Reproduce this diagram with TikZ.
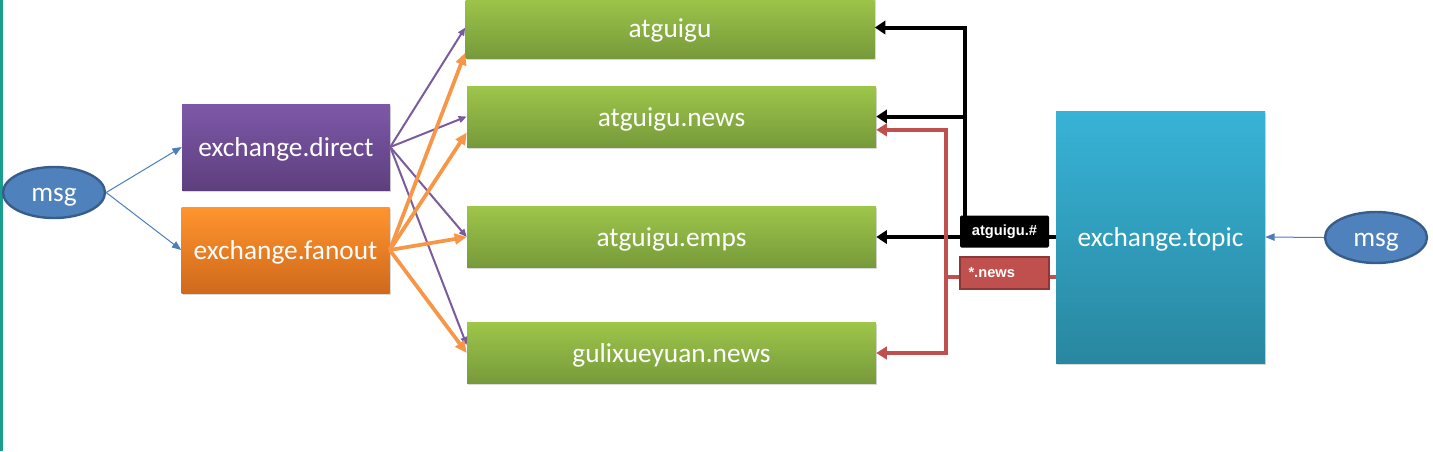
\documentclass[tikz,border=0pt]{standalone}
\usepackage{fontspec}
\setmainfont{Carlito}
\newfontfamily\tagfont{Liberation Sans}
\usetikzlibrary{arrows.meta,shadows,shapes.geometric}
\definecolor{purpleT}{HTML}{7D58A8}
\definecolor{purpleB}{HTML}{5E3F7E}
\definecolor{orangeT}{HTML}{FF952E}
\definecolor{orangeB}{HTML}{D0691C}
\definecolor{greenT}{HTML}{9DC64A}
\definecolor{greenB}{HTML}{769A3B}
\definecolor{blueT}{HTML}{37B3D7}
\definecolor{blueB}{HTML}{2987A0}
\definecolor{msgfill}{HTML}{4F81BD}
\definecolor{msgedge}{HTML}{385D8A}
\definecolor{redfill}{HTML}{C0504D}
\definecolor{rededge}{HTML}{8C3836}
\definecolor{purpleline}{HTML}{7A5B9E}
\definecolor{orangeline}{HTML}{F79646}
\definecolor{blueline}{HTML}{4A7EBB}
\definecolor{tealbar}{HTML}{1A9E8F}
\begin{document}
\begin{tikzpicture}[x=0.75pt, y=-0.75pt,
    box/.style={inner sep=0pt, text=white, font=\fontsize{20.5}{24}\selectfont,
      text height=17.5pt, text depth=3pt,
      drop shadow={shadow xshift=1pt, shadow yshift=-1.2pt, opacity=.3}},
    ex/.style={box, minimum width=156pt, minimum height=64.5pt},
    queue/.style={box, minimum width=306.75pt, minimum height=45.75pt,
      top color=greenT, bottom color=greenB},
    msg/.style={ellipse, draw=msgedge, line width=1.8pt, fill=msgfill, text=white,
      minimum width=76.5pt, minimum height=38.25pt, inner sep=0pt,
      text height=16pt, text depth=3pt, font=\fontsize{20.5}{24}\selectfont},
    tag/.style={minimum width=66.75pt, minimum height=24pt, inner sep=0pt,
      text=white, font=\tagfont\bfseries\fontsize{11}{13}\selectfont},
    pl/.style={draw=purpleline, line width=1.5pt, -{Triangle[length=6pt, width=5pt]}},
    ol/.style={draw=orangeline, line width=2.8pt, -{Triangle[length=9pt, width=8pt]}},
    bl/.style={draw=blueline, line width=0.75pt, -{Triangle[length=7pt, width=5.5pt]}},
    blk/.style={draw=black, line width=3pt, -{Triangle[length=8pt, width=10pt]}},
    rl/.style={draw=redfill, line width=2.6pt, -{Triangle[length=8pt, width=9.5pt]}}
  ]
  \clip (0,0) rectangle (1433,451);
  \fill[tealbar] (0,0) rectangle (3,451);

  % exchanges
  \node[ex, top color=purpleT, bottom color=purpleB] (direct) at (286,147) {exchange.direct};
  \node[ex, top color=orangeT, bottom color=orangeB] (fanout) at (285.5,250) {exchange.fanout};
  \node[box, minimum width=156.75pt, minimum height=189pt, top color=blueT, bottom color=blueB]
    (topic) at (1160.5,237) {exchange.topic};

  % queues
  \node[queue] (q1) at (670,27.5) {atguigu};
  \node[queue] (q2) at (671.5,116.5) {atguigu.news};
  \node[queue] (q3) at (671.5,237) {atguigu.emps};
  \node[queue] (q4) at (671.5,353) {gulixueyuan.news};

  % producers
  \node[msg] (msgL) at (54,192.5) {msg};
  \node[msg] (msgR) at (1376,237.5) {msg};

  \draw[bl] (msgL.east) -- (direct.west);
  \draw[bl] (msgL.east) -- (fanout.west);
  \draw[bl] (msgR.west) -- (topic.east);

  % direct bindings
  \draw[pl] (direct.east) -- (q1.west);
  \draw[pl] (direct.east) -- (q2.west);
  \draw[pl] (direct.east) -- (q3.west);
  \draw[pl] (direct.east) -- ([yshift=6pt]q4.west);

  % fanout bindings
  \draw[ol] (fanout.east) -- ([yshift=-19pt]q1.west);
  \draw[ol] (fanout.east) -- ([yshift=-12pt]q2.west);
  \draw[ol] (fanout.east) -- (q3.west);
  \draw[ol] (fanout.east) -- (q4.west);

  % topic bindings
  \coordinate (bj) at (965,237);
  \coordinate (rj) at (946,277);
  \draw[blk] (topic.west) -- (q3.east);
  \draw[blk] (bj) |- (q1.east);
  \draw[blk] (bj |- q2.east) -- (q2.east);
  \draw[rl, -] (topic.west |- rj) -- (rj);
  \draw[rl] (rj) |- ([yshift=-10pt]q2.east);
  \draw[rl] (rj) |- (q4.east);

  \node[tag, fill=black, rounded corners=1pt] (hash) at (1004.5,231.5) {atguigu.\#};
  \node[tag, fill=redfill, draw=rededge, line width=1.5pt, text width=54pt, align=left,
    inner xsep=5pt] (star) at (1004.5,273) {*.news};
\end{tikzpicture}
\end{document}
